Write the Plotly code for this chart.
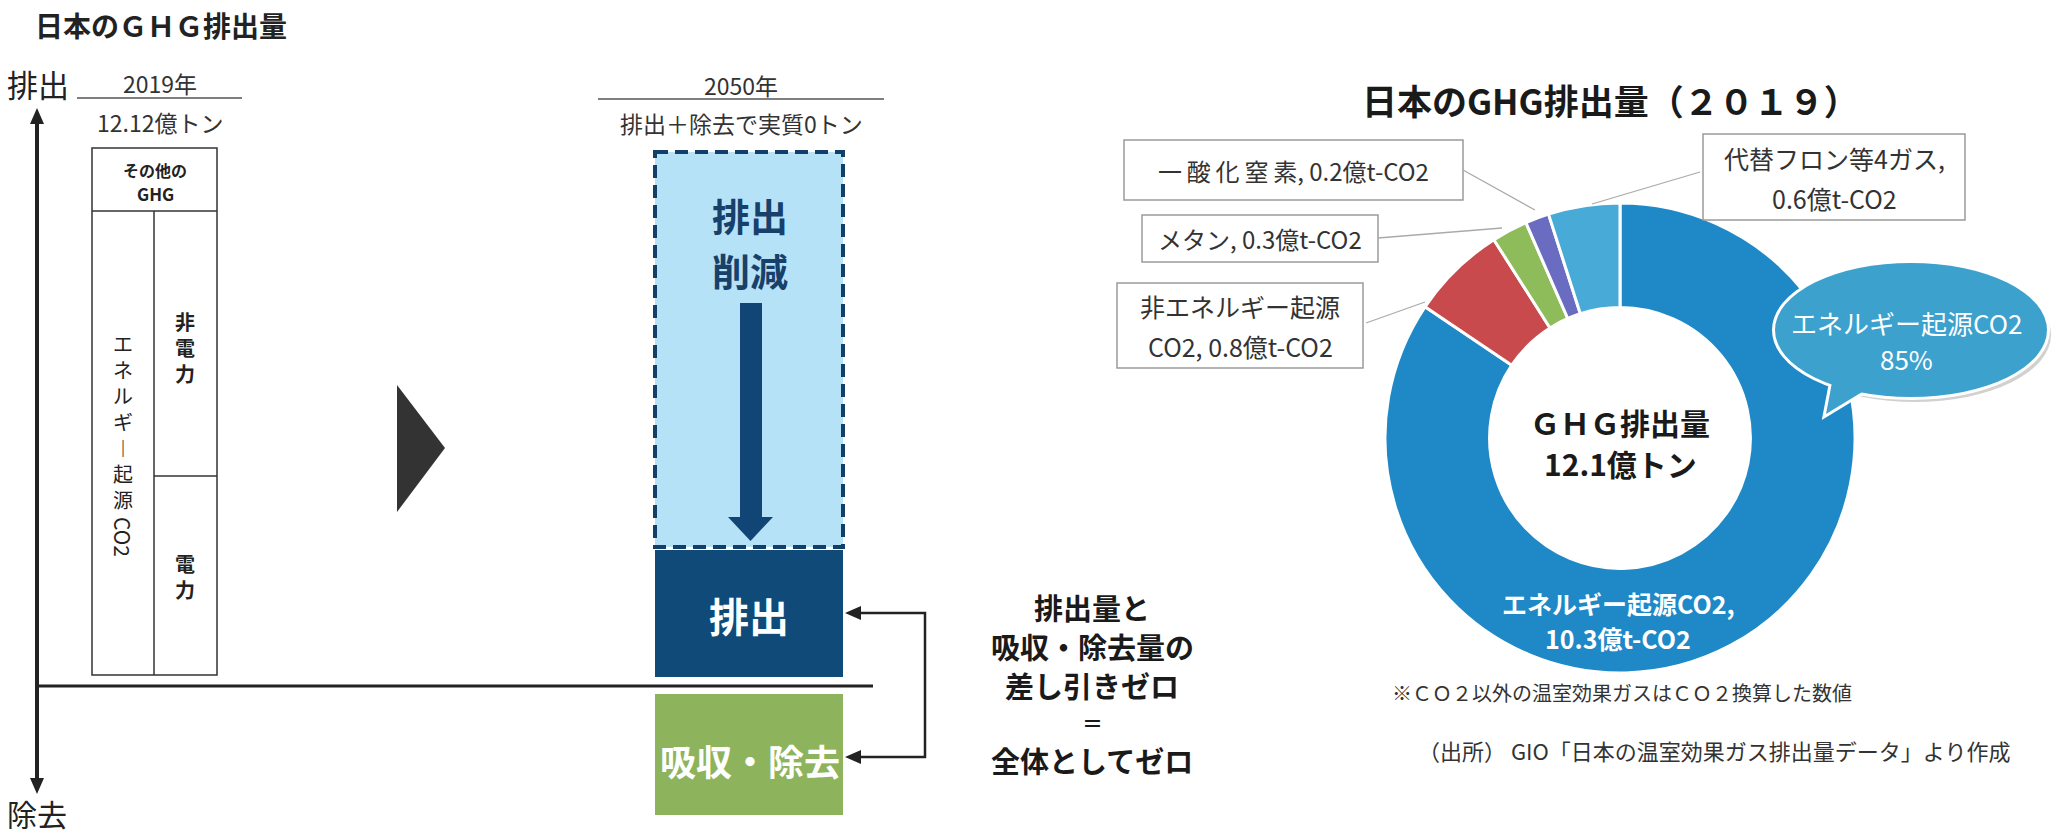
import plotly.graph_objects as go

W, H = 2055, 834
FONT = "Noto Sans CJK JP, Noto Sans, sans-serif"

# ---------------- data ----------------
ghg_categories = ["エネルギー起源CO2", "非エネルギー起源CO2", "メタン", "一酸化窒素", "代替フロン等4ガス"]
ghg_values = [10.3, 0.8, 0.3, 0.2, 0.6]
ghg_colors = ["#1f88c6", "#c94a4c", "#8fbc5b", "#6a6cc2", "#47aad7"]
ghg_total = 12.1
energy_share_pct = 85
total_2019 = 12.12
year_now, year_goal = 2019, 2050

vals = dict(zip(ghg_categories, ghg_values))

# ---------------- helpers ----------------
shapes = []
annos = []


def T(x, y, s, size, color="#222", bold=False, xa="center", ya="middle", angle=0):
    annos.append(dict(x=x, y=y, xref="x", yref="y", text=("<b>%s</b>" % s) if bold else s,
                      showarrow=False, xanchor=xa, yanchor=ya, textangle=angle,
                      font=dict(family=FONT, size=size, color=color)))


def rect(x0, y0, x1, y1, fill="rgba(0,0,0,0)", line="#333", lw=1.5, dash=None):
    d = dict(type="rect", xref="x", yref="y", x0=x0, y0=y0, x1=x1, y1=y1,
             fillcolor=fill, line=dict(color=line, width=lw), layer="above")
    if dash:
        d["line"]["dash"] = dash
    shapes.append(d)


def line(x0, y0, x1, y1, color="#222", lw=2):
    shapes.append(dict(type="line", xref="x", yref="y", x0=x0, y0=y0, x1=x1, y1=y1,
                       line=dict(color=color, width=lw), layer="above"))


def path(p, fill, color=None, lw=0):
    shapes.append(dict(type="path", xref="x", yref="y", path=p, fillcolor=fill,
                       line=dict(color=color or fill, width=lw), layer="above"))


# ---------------- left diagram ----------------
T(33, 25, "日本のＧＨＧ排出量", 28, bold=True, xa="left")
T(5, 83, "排出", 31, xa="left")
T(5, 813, "除去", 30, xa="left")
# vertical axis with arrows
line(37, 120, 37, 782, "#222", 4)
path("M 30,124 L 37,108 L 44,124 Z", "#222")
path("M 30,778 L 37,794 L 44,778 Z", "#222")
# baseline
line(37, 686, 873, 686, "#222", 3)

# 2019 header
T(160, 83, "%d年" % year_now, 23, color="#333")
line(77, 98, 242, 98, "#555", 1.5)
T(160, 122, "%s億トン" % total_2019, 23, color="#333")

# 2019 stack box
rect(92, 148, 217, 675, "white", "#333", 1.5)
line(92, 211, 217, 211, "#333", 1.5)
line(154, 211, 154, 675, "#333", 1.5)
line(154, 476, 217, 476, "#333", 1.5)
T(155, 170, "その他の", 16, bold=True)
T(155, 193, "GHG", 17, bold=True)
T(123, 421, "<br>".join(["エ", "ネ", "ル", "ギ", "︱", "起", "源"]), 20)
T(123, 537, "CO2", 21, angle=90)
T(185, 347, "<br>".join("非電力"), 20, bold=True)
T(185, 576, "<br>".join("電力"), 20, bold=True)

# middle triangle
path("M 397,385 L 445,448 L 397,512 Z", "#333")

# 2050 header
T(741, 85, "%d年" % year_goal, 23, color="#333")
line(598, 99, 884, 99, "#555", 1.5)
T(741, 123, "排出＋除去で実質0トン", 23, color="#333")

# reduction box
rect(655, 152, 843, 547, "#b6e2f7", "#123e6a", 4, dash="13px,7px")
T(750, 214, "排出", 38, color="#17406b", bold=True)
T(750, 269, "削減", 38, color="#17406b", bold=True)
path("M 740,303 L 762,303 L 762,520 L 740,520 Z", "#104576")
path("M 728,517 L 773,517 L 750.5,541 Z", "#104576")

# emission / removal boxes
rect(655, 550, 843, 677, "#0f4a79", "#0f4a79", 0)
T(749, 615, "排出", 40, color="white", bold=True)
rect(655, 694, 843, 815, "#8db45d", "#8db45d", 0)
T(750, 760, "吸収・除去", 36, color="white", bold=True)

# bracket arrows
path("M 858,613 L 925,613 L 925,757 L 858,757", "rgba(0,0,0,0)", "#222", 2.5)
path("M 845,613 L 861,606 L 861,620 Z", "#222")
path("M 845,757 L 861,750 L 861,764 Z", "#222")

# explanatory text
T(1092, 607, "排出量と", 29, color="#1a1a1a", bold=True)
T(1092, 646, "吸収・除去量の", 29, color="#1a1a1a", bold=True)
T(1092, 685, "差し引きゼロ", 29, color="#1a1a1a", bold=True)
T(1092, 722, "＝", 21, color="#1a1a1a", bold=True)
T(1092, 760, "全体としてゼロ", 29, color="#1a1a1a", bold=True)

# ---------------- right: donut ----------------
cx, cy, R = 1620, 438, 235
T(1610, 99, "日本のGHG排出量（２０１９）", 35, color="#1a1a1a", bold=True)

# label boxes + leader lines
lab_color = "#333"
rect(1124, 140, 1463, 200, "white", "#9a9a9a", 1.5)
T(1293, 170, "一\u2009酸\u2009化\u2009窒\u2009素, %s億t-CO2" % vals["一酸化窒素"], 24, color=lab_color)
line(1463, 170, 1535, 210, "#aaaaaa", 1.3)

rect(1142, 215, 1378, 262, "white", "#9a9a9a", 1.5)
T(1260, 238, "メタン, %s億t-CO2" % vals["メタン"], 24, color=lab_color)
line(1378, 238, 1502, 228, "#aaaaaa", 1.3)

rect(1117, 283, 1363, 368, "white", "#9a9a9a", 1.5)
T(1240, 306, "非エネルギー起源", 25, color=lab_color)
T(1240, 346, "CO2, %s億t-CO2" % vals["非エネルギー起源CO2"], 25, color=lab_color)
line(1366, 323, 1425, 302, "#aaaaaa", 1.3)

rect(1703, 134, 1965, 220, "white", "#9a9a9a", 1.5)
T(1834, 158, "代替フロン等4ガス,", 25, color=lab_color)
T(1834, 198, "%s億t-CO2" % vals["代替フロン等4ガス"], 25, color=lab_color)
line(1700, 172, 1592, 204, "#aaaaaa", 1.3)

# center + ring texts
T(cx, 422, "ＧＨＧ排出量", 30, color="#1a1a1a", bold=True)
T(cx, 463, "%s億トン" % ghg_total, 30, color="#1a1a1a", bold=True)
T(1618, 603, "エネルギー起源CO2,", 25, color="white", bold=True)
T(1618, 638, "%s億t-CO2" % vals["エネルギー起源CO2"], 25, color="white", bold=True)

# speech bubble
bub = "#3da1ce"
shapes.append(dict(type="circle", xref="x", yref="y", x0=1779, y0=268, x1=2051, y1=402,
                   fillcolor="rgba(0,0,0,0.18)", line=dict(width=0), layer="above"))
shapes.append(dict(type="circle", xref="x", yref="y", x0=1775, y0=263, x1=2047, y1=397,
                   fillcolor=bub, line=dict(color="white", width=6), layer="above"))
path("M 1834,372 L 1826,414 L 1872,386 Z", bub, "white", 6)
shapes.append(dict(type="circle", xref="x", yref="y", x0=1775, y0=263, x1=2047, y1=397,
                   fillcolor=bub, line=dict(width=0), layer="above"))
path("M 1834,372 L 1826,414 L 1872,386 Z", bub, bub, 0)
T(1906, 322, "エネルギー起源CO2", 26, color="white")
T(1906, 358, "%d%%" % energy_share_pct, 26, color="white")

# notes
T(1622, 692, "※ＣＯ２以外の温室効果ガスはＣＯ２換算した数値", 20, color="#333")
T(1714, 750, "（出所） GIO「日本の温室効果ガス排出量データ」より作成", 22, color="#333")

# ---------------- figure ----------------
fig = go.Figure()
fig.add_trace(go.Pie(
    labels=ghg_categories, values=ghg_values, sort=False, direction="clockwise", rotation=0,
    hole=0.555, textinfo="none", hoverinfo="label+value",
    marker=dict(colors=ghg_colors, line=dict(color="white", width=3)),
    domain=dict(x=[(cx - R) / W, (cx + R) / W], y=[1 - (cy + R) / H, 1 - (cy - R) / H]),
    showlegend=False,
))
fig.update_layout(
    width=W, height=H, margin=dict(l=0, r=0, t=0, b=0, pad=0),
    paper_bgcolor="white", plot_bgcolor="white",
    xaxis=dict(range=[0, W], visible=False, fixedrange=True),
    yaxis=dict(range=[H, 0], visible=False, fixedrange=True),
    shapes=shapes, annotations=annos, showlegend=False,
)
fig.write_html("out.html")
